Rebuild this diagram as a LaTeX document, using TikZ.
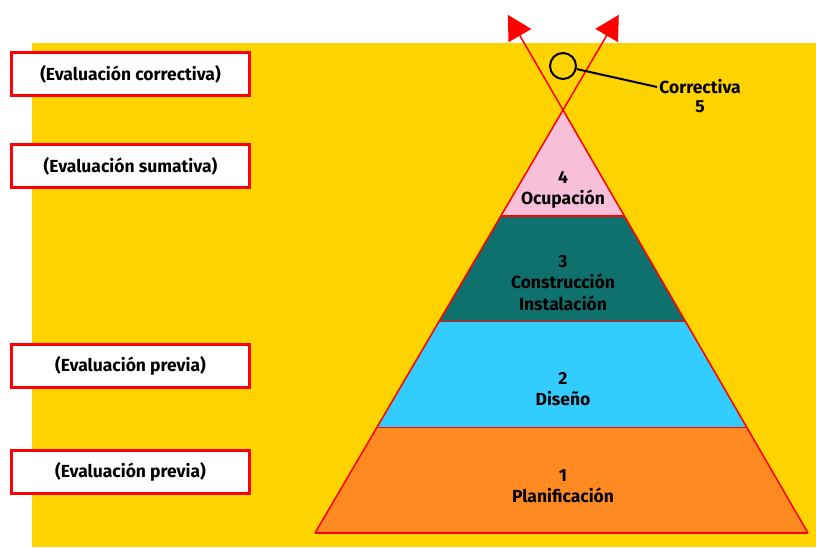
\documentclass[tikz,border=0pt]{standalone}
\usepackage{fontspec}
\setmainfont{Fira Sans}
\usetikzlibrary{arrows.meta,calc}

\definecolor{fondo}{HTML}{FFD300}
\definecolor{naranja}{HTML}{FF8A22}
\definecolor{celeste}{HTML}{33CCFF}
\definecolor{verdeazul}{HTML}{0E716E}
\definecolor{rosa}{HTML}{F8BFD8}

\begin{document}
\begin{tikzpicture}[x=1pt,y=-1pt,
    caja/.style={draw=red,line width=3pt,fill=white,minimum width=238pt,minimum height=43pt,
      font=\bfseries\fontsize{17.5}{20}\selectfont},
    etiqueta/.style={align=center,font=\bfseries\fontsize{17.5}{21.5}\selectfont,inner sep=0pt},
    borde/.style={red,line width=1.5pt}]
        \useasboundingbox (0,0) rectangle (816,547);
        % fondo amarillo
        \fill[fondo](32,43) rectangle (816,547);
        % cajas de evaluacion
        \node[caja] (correctiva) at (130.5,74) {(Evaluación correctiva)};
        \node[caja] (sumativa) at (130.5,166) {(Evaluación sumativa)};
        \node[caja] (previaA) at (130.5,365.5) {(Evaluación previa)};
        \node[caja] (previaB) at (130.5,471.5) {(Evaluación previa)};
        % vertices de la piramide
        \coordinate (cima) at (563,110);
        \coordinate (izq) at (315,533);
        \coordinate (der) at (808,533);
        % niveles
        \fill[naranja](izq)--(der)--($(cima)!0.75!(der)$)--($(cima)!0.75!(izq)$)--cycle;
        \fill[celeste]($(cima)!0.75!(izq)$)--($(cima)!0.75!(der)$)--($(cima)!0.5!(der)$)--($(cima)!0.5!(izq)$)--cycle;
        \fill[verdeazul]($(cima)!0.5!(izq)$)--($(cima)!0.5!(der)$)--($(cima)!0.25!(der)$)--($(cima)!0.25!(izq)$)--cycle;
        \fill[rosa]($(cima)!0.25!(izq)$)--($(cima)!0.25!(der)$)--(cima)--cycle;
        % lineas rojas
        \draw[borde](izq)--(der);
        \draw[borde]($(cima)!0.75!(izq)$)--($(cima)!0.75!(der)$);
        \draw[borde]($(cima)!0.5!(izq)$)--($(cima)!0.5!(der)$);
        \draw[borde]($(cima)!0.25!(izq)$)--($(cima)!0.25!(der)$);
        % lados prolongados con flechas
        \coordinate (puntaI) at ($(der)!1.225!(cima)$);
        \coordinate (puntaD) at ($(izq)!1.225!(cima)$);
        \draw[borde,-{Triangle[length=24pt,width=26pt]}](der)--(puntaI);
        \draw[borde,-{Triangle[length=24pt,width=26pt]}](izq)--(puntaD);
        % textos de los niveles
        \node[etiqueta] (ocupacion) at (563,190) {4\\Ocupación};
        \node[etiqueta] (construccion) at (563,283) {3\\Construcción\\Instalación};
        \node[etiqueta] (diseno) at (563,389) {2\\Diseño};
        \node[etiqueta] (planificacion) at (563,486) {1\\Planificación};
        % nivel 5
        \node[circle,draw,line width=2pt,minimum size=26pt,inner sep=0pt] (anillo) at (563,66) {};
        \node[etiqueta,inner sep=2pt] (correctivaN) at (700,87) {Correctiva};
        \node[etiqueta] (cinco) at (700,107) {5};
        \draw[line width=2pt](anillo)--(correctivaN.west);
\end{tikzpicture}
\end{document}
